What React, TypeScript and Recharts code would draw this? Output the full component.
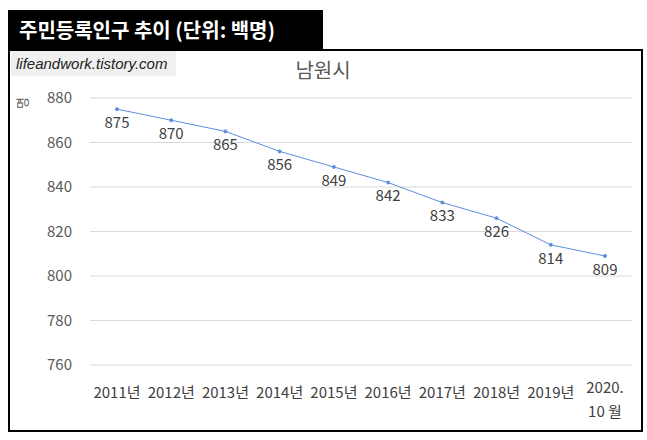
import React from "react";
import { LineChart, Line, XAxis, YAxis, CartesianGrid, LabelList } from "recharts";

const categories = ["2011년", "2012년", "2013년", "2014년", "2015년", "2016년", "2017년", "2018년", "2019년", "2020.\n10 월"];
const population = [875, 870, 865, 856, 849, 842, 833, 826, 814, 809];
const yTicks = [760, 780, 800, 820, 840, 860, 880];

const data = categories.map((c, i) => ({ name: c, value: population[i] }));

const FONT = "'Noto Sans CJK KR', 'Noto Sans', sans-serif";

const XTick = (props: any) => {
  const { x, y, payload } = props;
  const lines = String(payload.value).split("\n");
  const multi = lines.length > 1;
  return (
    <g>
      {lines.map((l, i) => (
        <text
          key={i}
          x={x}
          y={y + (multi ? 20 : 25) + i * 24}
          textAnchor="middle"
          fill="#404040"
          fontSize={15}
          fontFamily={FONT}
        >
          {l}
        </text>
      ))}
    </g>
  );
};

export default function App() {
  return (
    <div style={{ position: "absolute", left: 0, top: 0, width: 647, height: 440, background: "#fff", fontFamily: FONT }}>
      <div
        style={{
          position: "absolute",
          left: 8,
          top: 49,
          width: 631,
          height: 379,
          border: "2px solid #000",
          background: "#fff",
        }}
      />
      <div
        style={{
          position: "absolute",
          left: 8,
          top: 10,
          width: 315,
          height: 40,
          background: "#000",
          color: "#fff",
          fontWeight: "bold",
          fontSize: 20,
          lineHeight: "40px",
          paddingLeft: 11,
          boxSizing: "border-box",
          whiteSpace: "nowrap",
        }}
      >
        주민등록인구 추이 (단위: 백명)
      </div>
      <div
        style={{
          position: "absolute",
          left: 11,
          top: 51,
          width: 165,
          height: 25,
          background: "#f0f0f0",
          color: "#222",
          fontStyle: "italic",
          fontSize: 15,
          lineHeight: "25px",
          paddingLeft: 5,
          boxSizing: "border-box",
          fontFamily: "'Liberation Sans', Arial, sans-serif",
          whiteSpace: "nowrap",
        }}
      >
        lifeandwork.tistory.com
      </div>
      <div
        style={{
          position: "absolute",
          left: 223,
          top: 56,
          width: 200,
          textAlign: "center",
          color: "#595959",
          fontSize: 20,
          lineHeight: "28px",
        }}
      >
        남원시
      </div>
      <div
        style={{
          position: "absolute",
          left: 16,
          top: 96,
          fontSize: 13,
          color: "#595959",
          transform: "rotate(-90deg)",
          lineHeight: "14px",
        }}
      >
        명
      </div>
      <div style={{ position: "absolute", left: 0, top: 0 }}>
        <LineChart
          width={647}
          height={440}
          data={data}
          margin={{ top: 98, right: 15, bottom: 45, left: 50 }}
        >
          <CartesianGrid vertical={false} stroke="#d9d9d9" />
          <XAxis
            dataKey="name"
            axisLine={false}
            tickLine={false}
            interval={0}
            padding={{ left: 27, right: 27 }}
            height={30}
            tick={<XTick />}
          />
          <YAxis
            domain={[760, 880]}
            ticks={yTicks}
            axisLine={false}
            tickLine={false}
            width={40}
            tickMargin={12}
            tick={{ fill: "#595959", fontSize: 15, fontFamily: FONT }}
          />
          <Line
            type="linear"
            dataKey="value"
            stroke="#5B8EDF"
            strokeWidth={1}
            dot={{ r: 1.5, fill: "#5B8EDF", stroke: "#5B8EDF" }}
            isAnimationActive={false}
          >
            <LabelList
              dataKey="value"
              position="bottom"
              offset={8}
              fill="#404040"
              fontSize={15}
              fontFamily={FONT}
            />
          </Line>
        </LineChart>
      </div>
    </div>
  );
}
